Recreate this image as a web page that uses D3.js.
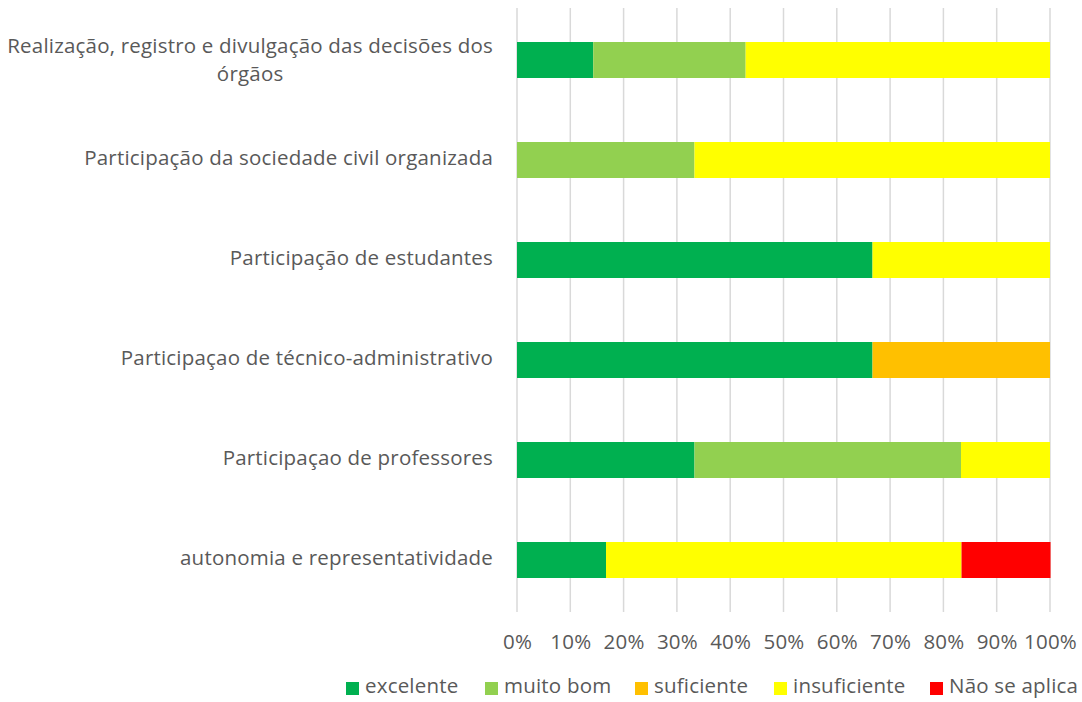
<!DOCTYPE html>
<html>
<head>
<meta charset="utf-8">
<script src="https://cdn.jsdelivr.net/npm/d3@7"></script>
<style>
  body { margin: 0; background: #fff; }
  text { font-family: "Open Sans", Lato, sans-serif; fill: #595959; letter-spacing: 0.2px; }
</style>
</head>
<body>
<div id="chart"></div>
<script>
// categories, top to bottom
var categories = [
  "Realização, registro e divulgação das decisões dos órgãos",
  "Participação da sociedade civil organizada",
  "Participação de estudantes",
  "Participaçao de técnico-administrativo",
  "Participaçao de professores",
  "autonomia e representatividade"
];

// series values (percent)
var excelente    = [14.3, 0, 66.7, 66.7, 33.3, 16.7];
var muitoBom     = [28.6, 33.3, 0, 0, 50.0, 0];
var suficiente   = [0, 0, 0, 33.3, 0, 0];
var insuficiente = [57.1, 66.7, 33.3, 0, 16.7, 66.7];
var naoSeAplica  = [0, 0, 0, 0, 0, 16.7];

var seriesNames = ["excelente", "muito bom", "suficiente", "insuficiente", "Não se aplica"];
var seriesColors = ["#00B050", "#92D050", "#FFC000", "#FFFF00", "#FF0000"];
var xTicks = [0, 10, 20, 30, 40, 50, 60, 70, 80, 90, 100];

const W = 1082, H = 702;
const margin = { top: 8, right: 32, bottom: 90, left: 517 };
const width = W - margin.left - margin.right,
  height = H - margin.top - margin.bottom;
const fontSize = "20.5px";

const svg = d3.select("#chart").append("svg")
  .attr("width", W).attr("height", H);
const g = svg.append("g")
  .attr("transform", `translate(${margin.left},${margin.top})`);

// build table for the stack
var table = categories.map(function (c, i) {
  return {
    cat: c,
    "excelente": excelente[i],
    "muito bom": muitoBom[i],
    "suficiente": suficiente[i],
    "insuficiente": insuficiente[i],
    "Não se aplica": naoSeAplica[i]
  };
});
var stacked = d3.stack().keys(seriesNames)(table);

const x = d3.scaleLinear().domain([0, 100]).range([0, width]);
const y = d3.scaleBand().domain(categories).range([0, height])
  .paddingInner(0.64).paddingOuter(0.34);
const color = d3.scaleOrdinal().domain(seriesNames).range(seriesColors);

// gridlines
g.selectAll(".grid").data(xTicks).enter().append("line")
  .attr("x1", d => x(d)).attr("x2", d => x(d))
  .attr("y1", 0).attr("y2", height)
  .attr("stroke", "#d9d9d9").attr("stroke-width", 1.5);

// bars
g.selectAll(".series").data(stacked).enter().append("g")
  .attr("fill", d => color(d.key))
  .selectAll("rect").data(d => d).enter().append("rect")
  .attr("x", d => x(d[0]))
  .attr("width", d => x(d[1]) - x(d[0]))
  .attr("y", d => y(d.data.cat))
  .attr("height", y.bandwidth());

// x axis labels
const xAxis = g.append("g")
  .attr("transform", `translate(0,${height})`)
  .call(d3.axisBottom(x).tickValues(xTicks).tickFormat(d => d + "%").tickSize(0).tickPadding(22));
xAxis.select(".domain").remove();
xAxis.selectAll("text")
  .style("font-size", fontSize)
  .style("font-family", "'Open Sans', Lato, sans-serif")
  .attr("fill", "#595959");

// y labels (right aligned, wrapped lines centered like Excel)
var wrapped = {
  "Realização, registro e divulgação das decisões dos órgãos":
    ["Realização, registro e divulgação das decisões dos", "órgãos"]
};
categories.forEach(function (c) {
  var cy = y(c) + y.bandwidth() / 2;
  if (wrapped[c]) {
    var t = g.append("text")
      .attr("x", -24).attr("y", cy - 12)
      .attr("text-anchor", "end")
      .attr("dominant-baseline", "middle")
      .style("font-size", fontSize)
      .text(wrapped[c][0]);
    var w = t.node().getComputedTextLength();
    g.append("text")
      .attr("x", -24 - w / 2).attr("y", cy + 16)
      .attr("text-anchor", "middle")
      .attr("dominant-baseline", "middle")
      .style("font-size", fontSize)
      .text(wrapped[c][1]);
  } else {
    g.append("text")
      .attr("x", -24).attr("y", cy)
      .attr("text-anchor", "end")
      .attr("dominant-baseline", "middle")
      .style("font-size", fontSize)
      .text(c);
  }
});

// legend
var legendX = [346, 485, 635, 774, 930];
var legend = svg.append("g").attr("transform", "translate(0,688)");
seriesNames.forEach(function (s, i) {
  legend.append("rect")
    .attr("x", legendX[i]).attr("y", -6)
    .attr("width", 13).attr("height", 13)
    .attr("fill", color(s));
  legend.append("text")
    .attr("x", legendX[i] + 19).attr("y", 0)
    .attr("dominant-baseline", "middle")
    .style("font-size", fontSize)
    .text(s);
});
</script>
</body>
</html>
